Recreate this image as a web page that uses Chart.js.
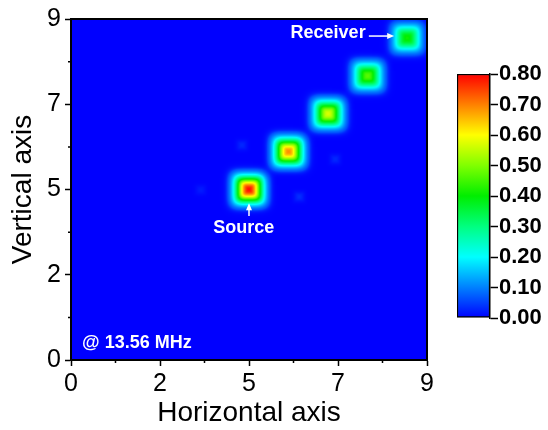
<!DOCTYPE html>
<html>
<head>
<meta charset="utf-8">
<script src="https://cdn.jsdelivr.net/npm/chart.js@4.4.1/dist/chart.umd.min.js"></script>
<style>
  html, body { margin: 0; padding: 0; background: #fff; }
  #wrap { position: relative; width: 548px; height: 430px; }
  #mapChart { position: absolute; left: 0; top: 0; }
  #barChart { position: absolute; left: 440px; top: 0; }
</style>
</head>
<body>
<div id="wrap">
  <canvas id="mapChart" width="548" height="430"></canvas>
  <canvas id="barChart" width="108" height="430"></canvas>
</div>
<script>
// hot spots on the diagonal, source first, receiver last
const spotX = [4.5, 5.5, 6.5, 7.5, 8.5];
const spotY = [4.5, 5.5, 6.5, 7.5, 8.5];
const spotPeak = [0.79, 0.69, 0.57, 0.47, 0.41];

// faint side lobes
const lobeX = [4.32, 6.68, 3.28, 5.77];
const lobeY = [5.67, 5.30, 4.49, 4.31];
const lobePeak = [0.03, 0.03, 0.02, 0.035];

const axisTicks = [0, 2.25, 4.5, 6.75, 9];
const minorTicks = [1.125, 3.375, 5.625, 7.875];
const barTicks = [0, 0.1, 0.2, 0.3, 0.4, 0.5, 0.6, 0.7, 0.8];

// rainbow colour map
const cmapValues = [0, 0.1, 0.2, 0.3, 0.4, 0.5, 0.6, 0.7, 0.8];
const cmapColors = [
  [0, 0, 255], [0, 128, 255], [0, 255, 255], [0, 255, 128], [0, 238, 0],
  [128, 255, 0], [255, 255, 0], [255, 128, 0], [255, 0, 0]
];

const FONT = 'Liberation Sans, Arial, sans-serif';

function cmap(v) {
  if (v <= cmapValues[0]) return cmapColors[0];
  for (let i = 1; i < cmapValues.length; i++) {
    if (v <= cmapValues[i]) {
      const t = (v - cmapValues[i - 1]) / (cmapValues[i] - cmapValues[i - 1]);
      const a = cmapColors[i - 1], b = cmapColors[i];
      return [0, 1, 2].map(k => Math.round(a[k] + (b[k] - a[k]) * t));
    }
  }
  return cmapColors[cmapColors.length - 1];
}

function rgb(c) {
  return `rgb(${c[0]},${c[1]},${c[2]})`;
}

// spot image, sized from the chart's own scales; fades out where it meets the background
const blobCache = {};
function blob(chart, peak, sigma) {
  const xs = chart.scales.x, ys = chart.scales.y;
  if (!xs || !ys) return 'circle';
  const sx = Math.abs(xs.getPixelForValue(sigma) - xs.getPixelForValue(0));
  const sy = Math.abs(ys.getPixelForValue(sigma) - ys.getPixelForValue(0));
  if (!isFinite(sx) || !isFinite(sy) || sx < 1 || sy < 1) return 'circle';
  const key = peak + '_' + sigma + '_' + sx.toFixed(2) + '_' + sy.toFixed(2);
  if (blobCache[key]) return blobCache[key];
  const rx = Math.ceil(sx * 3.6), ry = Math.ceil(sy * 3.6);
  const c = document.createElement('canvas');
  c.width = 2 * rx + 1;
  c.height = 2 * ry + 1;
  const g = c.getContext('2d');
  const img = g.createImageData(c.width, c.height);
  const fade = Math.min(0.06, peak);
  for (let j = 0; j < c.height; j++) {
    for (let i = 0; i < c.width; i++) {
      const u = Math.abs(i - rx) / sx, w = Math.abs(j - ry) / sy;
      const d = Math.pow(Math.pow(u, 4) + Math.pow(w, 4), 1 / 4);
      const val = peak * Math.exp(-d * d / 2);
      const col = cmap(val);
      const k = (j * c.width + i) * 4;
      img.data[k] = col[0];
      img.data[k + 1] = col[1];
      img.data[k + 2] = col[2];
      img.data[k + 3] = Math.round(255 * Math.min(1, val / fade));
    }
  }
  g.putImageData(img, 0, 0);
  blobCache[key] = c;
  return c;
}

const notes = [
  { text: 'Receiver', x: 6.5, y: 8.63, align: 'center' },
  { text: 'Source', x: 4.37, y: 3.47, align: 'center' },
  { text: '@ 13.56 MHz', x: 0.28, y: 0.45, align: 'left' }
];
const arrows = [
  { x0: 7.53, y0: 8.55, x1: 8.17, y1: 8.55 },
  { x0: 4.5, y0: 3.80, x1: 4.5, y1: 4.14 }
];

const mapDecor = {
  id: 'mapDecor',
  beforeDatasetsDraw(chart) {
    const { ctx, chartArea: a } = chart;
    ctx.save();
    ctx.fillStyle = rgb(cmap(0));
    ctx.fillRect(a.left, a.top, a.width, a.height);
    ctx.restore();
  },
  afterDatasetsDraw(chart) {
    const { ctx, chartArea: a } = chart;
    const xs = chart.scales.x, ys = chart.scales.y;
    ctx.save();
    ctx.strokeStyle = '#000';
    ctx.lineWidth = 2;
    ctx.strokeRect(a.left, a.top, a.width, a.height);

    ctx.lineWidth = 1.5;
    ctx.beginPath();
    minorTicks.forEach(m => {
      const px = xs.getPixelForValue(m);
      ctx.moveTo(px, a.bottom);
      ctx.lineTo(px, a.bottom + 3);
      const py = ys.getPixelForValue(m);
      ctx.moveTo(a.left, py);
      ctx.lineTo(a.left - 3, py);
    });
    ctx.stroke();

    ctx.fillStyle = '#fff';
    ctx.strokeStyle = '#fff';
    ctx.font = 'bold 18px ' + FONT;
    ctx.textBaseline = 'middle';
    notes.forEach(n => {
      ctx.textAlign = n.align;
      ctx.fillText(n.text, xs.getPixelForValue(n.x), ys.getPixelForValue(n.y));
    });

    ctx.lineWidth = 1.5;
    arrows.forEach(ar => {
      const x0 = xs.getPixelForValue(ar.x0), y0 = ys.getPixelForValue(ar.y0);
      const x1 = xs.getPixelForValue(ar.x1), y1 = ys.getPixelForValue(ar.y1);
      const ang = Math.atan2(y1 - y0, x1 - x0);
      ctx.beginPath();
      ctx.moveTo(x0, y0);
      ctx.lineTo(x1 - 5 * Math.cos(ang), y1 - 5 * Math.sin(ang));
      ctx.stroke();
      ctx.beginPath();
      ctx.moveTo(x1, y1);
      ctx.lineTo(x1 - 7 * Math.cos(ang) + 3 * Math.sin(ang), y1 - 7 * Math.sin(ang) - 3 * Math.cos(ang));
      ctx.lineTo(x1 - 7 * Math.cos(ang) - 3 * Math.sin(ang), y1 - 7 * Math.sin(ang) + 3 * Math.cos(ang));
      ctx.closePath();
      ctx.fill();
    });
    ctx.restore();
  }
};

function axis(title, pos) {
  return {
    type: 'linear',
    position: pos,
    min: 0,
    max: 9,
    afterBuildTicks: s => { s.ticks = axisTicks.map(v => ({ value: v })); },
    afterFit: s => {
      if (pos === 'left') s.width = 71; else s.height = 70;
    },
    ticks: {
      callback: v => Math.round(v),
      font: { family: FONT, size: 25 },
      color: '#000',
      padding: pos === 'left' ? 4 : 3,
      maxRotation: 0
    },
    grid: { drawOnChartArea: false, tickLength: 6, tickColor: '#000', tickWidth: 1.5 },
    border: { display: true, color: '#000', width: 2 },
    title: {
      display: true,
      text: title,
      color: '#000',
      font: { family: FONT, size: 28 },
      padding: pos === 'left' ? { top: 6, bottom: 0 } : { top: 0, bottom: 0 }
    }
  };
}

const spotData = spotX.map((x, i) => ({ x: x, y: spotY[i], v: spotPeak[i] }));
const lobeData = lobeX.map((x, i) => ({ x: x, y: lobeY[i], v: lobePeak[i] }));

new Chart(document.getElementById('mapChart'), {
  type: 'scatter',
  data: {
    datasets: [
      {
        label: 'lobes',
        data: lobeData,
        pointRadius: 1,
        pointStyle: c => blob(c.chart, c.raw.v, 0.12),
        clip: 0
      },
      {
        label: 'spots',
        data: spotData,
        pointRadius: 1,
        pointStyle: c => blob(c.chart, c.raw.v, 0.24),
        clip: 0
      }
    ]
  },
  options: {
    responsive: false,
    animation: false,
    events: [],
    layout: { padding: { left: 0, top: 19, right: 121, bottom: 0 } },
    plugins: { legend: { display: false }, tooltip: { enabled: false } },
    scales: {
      x: axis('Horizontal axis', 'bottom'),
      y: axis('Vertical axis', 'left')
    }
  },
  plugins: [mapDecor]
});

new Chart(document.getElementById('barChart'), {
  type: 'bar',
  data: {
    labels: [''],
    datasets: [{
      data: [[0, 0.8]],
      backgroundColor: c => {
        const a = c.chart.chartArea;
        if (!a) return rgb(cmap(0));
        const g = c.chart.ctx.createLinearGradient(0, a.bottom, 0, a.top);
        cmapValues.forEach((v, i) => g.addColorStop(v / 0.8, rgb(cmapColors[i])));
        return g;
      },
      borderColor: '#000',
      borderWidth: 1.5,
      borderSkipped: false,
      barPercentage: 1,
      categoryPercentage: 1
    }]
  },
  options: {
    responsive: false,
    animation: false,
    events: [],
    layout: { padding: { left: 17, top: 74, right: 0, bottom: 112 } },
    plugins: { legend: { display: false }, tooltip: { enabled: false } },
    scales: {
      x: { display: false },
      y: {
        position: 'right',
        min: 0,
        max: 0.8,
        afterBuildTicks: s => { s.ticks = barTicks.map(v => ({ value: v })); },
        afterFit: s => { s.width = 58; },
        ticks: {
          callback: v => v.toFixed(2),
          font: { family: FONT, size: 22, weight: 'bold' },
          color: '#000',
          padding: 1
        },
        grid: { drawOnChartArea: false, tickLength: 8, tickColor: '#000', tickWidth: 1.5 },
        border: { display: true, color: '#000', width: 1.5 }
      }
    }
  }
});
</script>
</body>
</html>
